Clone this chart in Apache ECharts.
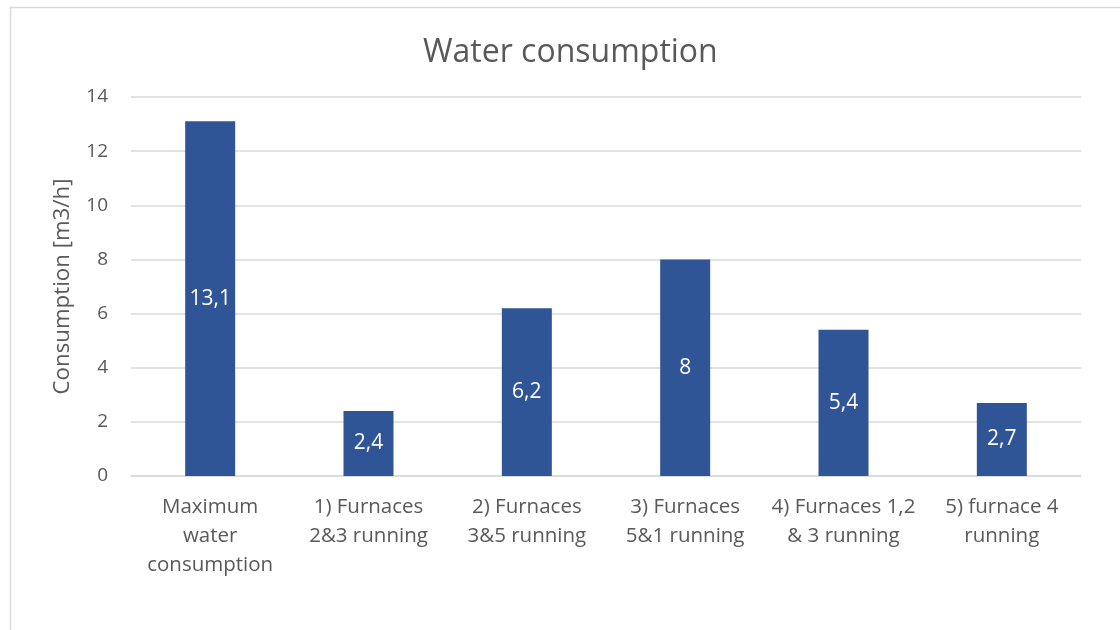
<!DOCTYPE html>
<html><head><meta charset="utf-8">
<script src="https://cdn.jsdelivr.net/npm/echarts@6/dist/echarts.min.js"></script>
<style>html,body{margin:0;padding:0;background:#fff}#c{width:1120px;height:630px}</style>
</head><body><div id="c"></div>
<script>
const categories = ["Maximum\nwater\nconsumption","1) Furnaces\n2&3 running","2) Furnaces\n3&5 running","3) Furnaces\n5&1 running","4) Furnaces 1,2\n& 3 running","5) furnace 4\nrunning"];
const values = [13.1, 2.4, 6.2, 8, 5.4, 2.7];
const yTicks = [0, 2, 4, 6, 8, 10, 12, 14];

const chart = echarts.init(document.getElementById('c'), null, {renderer:'canvas'});
const FONT = 'Open Sans';
chart.setOption({
  animation:false,
  backgroundColor:'#fff',
  graphic:[{type:'rect', shape:{x:10.5,y:7.5,width:1200,height:700}, style:{fill:'none',stroke:'#d9d9d9',lineWidth:1.5}, silent:true}],
  title:{text:'Water consumption', left:418, top:32, textStyle:{fontFamily:FONT, fontSize:32, fontWeight:'normal', color:'#595959'}},
  grid:{left:131, right:39, top:97, bottom:154, containLabel:false},
  xAxis:{type:'category', data:categories,
    axisLine:{lineStyle:{color:'#d9d9d9', width:1.5}}, axisTick:{show:false},
    axisLabel:{fontFamily:FONT, fontSize:20.5, color:'#595959', lineHeight:29, margin:17, interval:0}},
  yAxis:{type:'value', min:yTicks[0], max:yTicks[yTicks.length-1], interval:2,
    name:'Consumption [m3/h]', nameLocation:'middle', nameGap:57, nameRotate:90,
    nameTextStyle:{fontFamily:FONT, fontSize:22.3, color:'#595959'},
    axisLine:{show:false}, axisTick:{show:false},
    splitLine:{lineStyle:{color:'#d9d9d9', width:1.5}},
    axisLabel:{fontFamily:FONT, fontSize:19, color:'#595959', margin:23}},
  series:[{type:'bar', data:values, barWidth:50, itemStyle:{color:'#2F5597'},
    label:{show:true, position:'inside', fontFamily:FONT, fontSize:21, color:'#fff',
      formatter:p=>String(p.value).replace('.',',')}}]
});
</script></body></html>
